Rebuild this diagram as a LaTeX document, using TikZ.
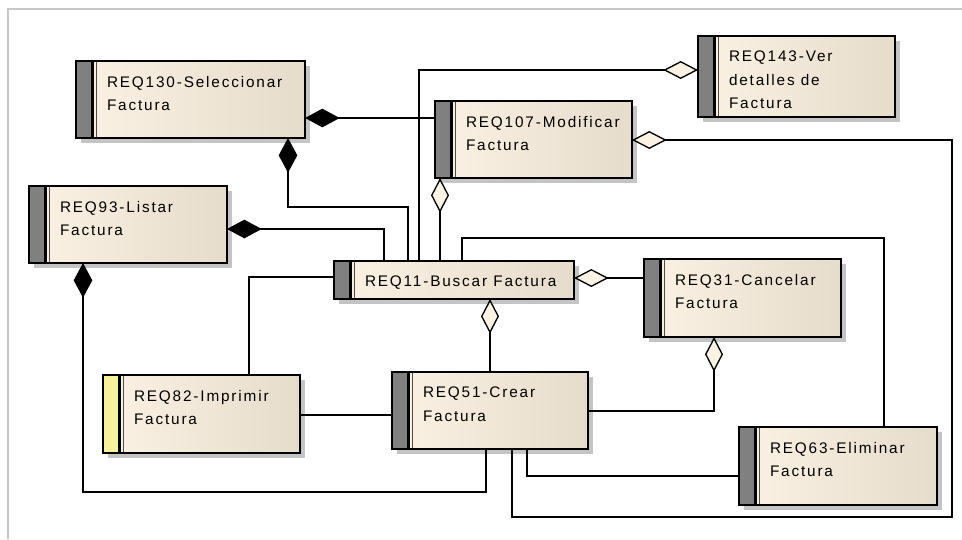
\documentclass[tikz,border=0pt]{standalone}
\usepackage{fontspec}
\usetikzlibrary{arrows.meta,calc,shadows}
\newfontfamily\reqfont{Liberation Sans}[LetterSpace=12]

\definecolor{boxlight}{RGB}{251,242,227}
\definecolor{boxdark}{RGB}{229,220,204}
\definecolor{stripgray}{RGB}{128,128,128}
\definecolor{stripyellow}{RGB}{246,241,155}
\definecolor{shadowgray}{RGB}{196,196,196}
\definecolor{framegray}{RGB}{200,200,200}

\tikzset{
  stripfill/.code={\def\reqstripcolor{#1}},
  boxsize/.style 2 args={minimum width=#1*0.75pt, minimum height=#2*0.75pt},
  req/.style={rectangle, draw=black, line width=1.1pt, inner sep=0pt, outer sep=0pt,
    anchor=north west, stripfill=stripgray,
    left color=boxlight, middle color=boxlight!85!boxdark, right color=boxdark,
    drop shadow={shadow xshift=3.75pt, shadow yshift=-3.75pt, fill=shadowgray, opacity=1},
    path picture={
      \fill[fill=\reqstripcolor] (path picture bounding box.north west)
        rectangle ($(path picture bounding box.south west)+(15.5,0)$);
      \draw[line width=2.2pt] ($(path picture bounding box.north west)+(16.9,0)$)
        -- ($(path picture bounding box.south west)+(16.9,0)$);
      \draw[line width=0.8pt, black!70] ($(path picture bounding box.north west)+(20.6,0)$)
        -- ($(path picture bounding box.south west)+(20.6,0)$);
    }},
  reqtext/.style={font=\reqfont\fontsize{11.5pt}{17.6pt}\selectfont, inner sep=0pt,
    outer sep=0pt, align=left, anchor=north west},
  link/.style={draw=black, line width=1pt},
  comp/.style={arrows={Diamond[length=26pt,width=14pt]-}},
  agg/.style={arrows={Diamond[length=26pt,width=13.5pt,fill=boxlight]-}},
}

\begin{document}
\begin{tikzpicture}[x=0.75pt, y=-0.75pt]
  \fill[white] (0,0) rectangle (962,539);
  \useasboundingbox (0,0) rectangle (962,539);

  % diagram frame
  \draw[framegray, line width=1.5pt] (8,539) -- (8,9) -- (962,9);

  % requirement boxes
  \node[req, boxsize={229}{77}] (b130) at (76,61) {};
  \node[req, boxsize={198}{77}] (b93) at (29,186) {};
  \node[req, boxsize={197}{77}] (b107) at (435,101) {};
  \node[req, boxsize={197}{81}] (b143) at (698,36) {};
  \node[req, boxsize={240}{38}] (b11) at (334,261) {};
  \node[req, boxsize={197}{78}] (b31) at (644,259) {};
  \node[req, boxsize={197}{78}, stripfill=stripyellow] (b82) at (103,375) {};
  \node[req, boxsize={196}{77}] (b51) at (392,372) {};
  \node[req, boxsize={198}{78}] (b63) at (739,427) {};

  % box titles
  \node[reqtext] (t130) at ($(b130.north west)+(31,15)$) {REQ130-Seleccionar\\Factura};
  \node[reqtext] (t93) at ($(b93.north west)+(31,15)$) {REQ93-Listar\\Factura};
  \node[reqtext] (t107) at ($(b107.north west)+(31,15)$) {REQ107-Modificar\\Factura};
  \node[reqtext] (t143) at ($(b143.north west)+(31,15)$) {REQ143-Ver\\detalles de\\Factura};
  \node[reqtext] (t11) at ($(b11.north west)+(31,15)$) {REQ11-Buscar Factura};
  \node[reqtext] (t31) at ($(b31.north west)+(31,15)$) {REQ31-Cancelar\\Factura};
  \node[reqtext] (t82) at ($(b82.north west)+(31,15)$) {REQ82-Imprimir\\Factura};
  \node[reqtext] (t51) at ($(b51.north west)+(31,15)$) {REQ51-Crear\\Factura};
  \node[reqtext] (t63) at ($(b63.north west)+(31,15)$) {REQ63-Eliminar\\Factura};

  % composition links
  \draw[link,comp] ($(b130.north east)+(0,57)$) -- ($(b107.north west)+(0,17)$);
  \draw[link,comp] ($(b130.south west)+(212,0)$) |- ($(b11.north west)+(74,-54)$)
    -- ($(b11.north west)+(74,0)$);
  \draw[link,comp] ($(b93.north east)+(0,43)$) -| ($(b11.north west)+(50,0)$);
  \draw[link,comp] ($(b93.south west)+(54,0)$) |- ($(b51.south west)+(94,43)$)
    -- ($(b51.south west)+(94,0)$);

  % aggregation links
  \draw[link,agg] ($(b143.north west)+(0,34)$) -| ($(b11.north west)+(85,0)$);
  \draw[link,agg] ($(b107.south west)+(5,0)$) -- ($(b11.north west)+(106,0)$);
  \draw[link,agg] ($(b107.north east)+(0,39)$) -- ++(320,0)
    |- ($(b51.south west)+(120,68)$) -- ($(b51.south west)+(120,0)$);
  \draw[link,agg] ($(b11.north east)+(0,17)$) -- ($(b31.north west)+(0,19)$);
  \draw[link,agg] ($(b11.south west)+(156,0)$) -- ($(b51.north west)+(98,0)$);
  \draw[link,agg] ($(b31.south west)+(70,0)$) |- ($(b51.north east)+(0,39)$);

  % plain associations
  \draw[link] ($(b11.north west)+(0,16)$) -| ($(b82.north west)+(146,0)$);
  \draw[link] ($(b82.north east)+(0,40)$) -- ($(b51.north west)+(0,43)$);
  \draw[link] ($(b11.north west)+(128,0)$) |- ($(b63.north west)+(145,-189)$)
    -- ($(b63.north west)+(145,0)$);
  \draw[link] ($(b51.south west)+(135,0)$) |- ($(b63.north west)+(0,49)$);
\end{tikzpicture}
\end{document}
